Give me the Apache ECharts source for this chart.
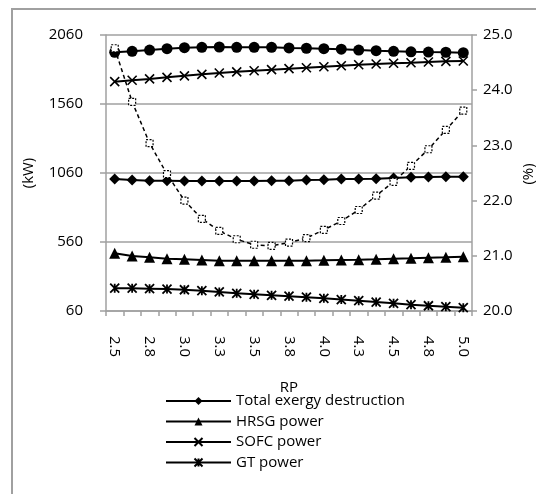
<!DOCTYPE html>
<html>
<head>
<meta charset="utf-8">
<script src="https://cdn.jsdelivr.net/npm/echarts@6/dist/echarts.min.js"></script>
<style>html,body{margin:0;padding:0;background:#fff;}#c{width:536px;height:494px;}</style>
</head>
<body>
<div id="c"></div>
<script>
// Data
const rp = [2.5, 2.625, 2.75, 2.875, 3.0, 3.125, 3.25, 3.375, 3.5, 3.625, 3.75, 3.875, 4.0, 4.125, 4.25, 4.375, 4.5, 4.625, 4.75, 4.875, 5.0];
const totalExergyDestruction = [1016, 1009, 1004, 1004, 1002, 1002, 1002, 1002, 1002, 1004, 1004, 1009, 1011, 1017, 1016, 1019, 1024, 1029, 1031, 1033, 1033];
const hrsgPower = [478, 459, 449, 439, 435, 430, 425, 425, 425, 425, 425, 425, 427, 430, 432, 435, 439, 442, 446, 449, 454];
const sofcPower = [1722, 1732, 1742, 1753, 1764, 1775, 1785, 1793, 1801, 1809, 1816, 1823, 1830, 1837, 1844, 1850, 1855, 1859, 1864, 1869, 1872];
const gtPower = [225, 225, 222, 219, 214, 207, 198, 188, 181, 174, 167, 160, 152, 143, 135, 125, 116, 106, 98, 91, 84];
const netPower = [1935, 1942, 1951, 1961, 1968, 1971, 1973, 1971, 1971, 1971, 1966, 1964, 1961, 1957, 1951, 1946, 1942, 1938, 1936, 1935, 1932];
const efficiency = [24.76, 23.79, 23.04, 22.48, 22.00, 21.67, 21.45, 21.30, 21.20, 21.18, 21.24, 21.32, 21.47, 21.63, 21.83, 22.09, 22.34, 22.63, 22.93, 23.28, 23.63];
const leftTicks = {min: 60, max: 2060, interval: 500};
const rightTicks = {min: 20, max: 25, interval: 1};

const FONT = 'Open Sans';
const GRAY = '#a0a0a0';
const txt = {color: '#000', fontFamily: FONT, fontSize: 15};

const X_SYM = 'path://M0,0L10,10M10,0L0,10';
const STAR_SYM = 'path://M0,0L10,10M10,0L0,10M5,0L5,10';

function lineSeries(name, data, symbol, size, extra) {
  return Object.assign({
    name: name, type: 'line', data: data, yAxisIndex: 0,
    symbol: symbol, symbolSize: size, showAllSymbol: true,
    lineStyle: {color: '#000', width: 2},
    itemStyle: {color: '#000', borderColor: '#000', borderWidth: 0},
    emphasis: {disabled: true}, animation: false
  }, extra || {});
}

const chart = echarts.init(document.getElementById('c'), null, {renderer: 'canvas'});
chart.setOption({
  backgroundColor: '#fff',
  animation: false,
  graphic: [{
    type: 'rect', silent: true, z: -10,
    shape: {x: 12, y: 9, width: 600, height: 600},
    style: {fill: 'none', stroke: GRAY, lineWidth: 2}
  }, {
    type: 'text', silent: true, x: 529, y: 174, rotation: Math.PI / 2,
    style: {text: '(%)', fill: '#000', font: '15px "Open Sans"', align: 'center', verticalAlign: 'middle'}
  }],
  grid: {left: 106, right: 64, top: 35, bottom: 183},
  legend: {
    data: ['Total exergy destruction', 'HRSG power', 'SOFC power', 'GT power'],
    orient: 'vertical', left: 160, top: 388,
    itemWidth: 65, itemHeight: 10, itemGap: 4.5,
    textStyle: Object.assign({}, txt, {lineHeight: 16, padding: [0, 0, 0, 0]}),
    selectedMode: false
  },
  xAxis: {
    type: 'category', data: rp.map(String), boundaryGap: true,
    axisLine: {lineStyle: {color: GRAY, width: 1.5}},
    axisTick: {show: true, interval: 0, length: 5, lineStyle: {color: GRAY, width: 1.5}},
    axisLabel: Object.assign({}, txt, {interval: 1, rotate: -90, margin: 25,
      formatter: v => Number(v).toFixed(1)}),
    splitLine: {show: false},
    name: 'RP', nameLocation: 'middle', nameGap: 69, nameTextStyle: txt
  },
  yAxis: [{
    type: 'value', position: 'left',
    min: leftTicks.min, max: leftTicks.max, interval: leftTicks.interval,
    axisLine: {show: true, lineStyle: {color: GRAY, width: 1.5}},
    axisTick: {show: true, length: 6, lineStyle: {color: GRAY, width: 1.5}},
    axisLabel: Object.assign({}, txt, {margin: 23, formatter: v => String(v)}),
    splitLine: {show: true, lineStyle: {color: GRAY, width: 1.5}},
    name: '(kW)', nameLocation: 'middle', nameGap: 70, nameTextStyle: txt
  }, {
    type: 'value', position: 'right',
    min: rightTicks.min, max: rightTicks.max, interval: rightTicks.interval,
    axisLine: {show: true, lineStyle: {color: GRAY, width: 1.5}},
    axisTick: {show: true, length: 5, lineStyle: {color: GRAY, width: 1.5}},
    axisLabel: Object.assign({}, txt, {margin: 11, formatter: v => v.toFixed(1)}),
    splitLine: {show: false}
  }],
  series: [
    lineSeries('Net power', netPower, 'circle', 11),
    lineSeries('Total exergy destruction', totalExergyDestruction, 'diamond', 11),
    lineSeries('HRSG power', hrsgPower, 'triangle', 11),
    lineSeries('SOFC power', sofcPower, X_SYM, 9, {itemStyle: {color: '#000', borderColor: '#000', borderWidth: 1.6}}),
    lineSeries('GT power', gtPower, STAR_SYM, 9, {itemStyle: {color: '#000', borderColor: '#000', borderWidth: 1.8}}),
    lineSeries('Efficiency', efficiency, 'rect', 7, {
      yAxisIndex: 1,
      lineStyle: {color: '#000', width: 1.5, type: [4, 3]},
      itemStyle: {color: '#fff', borderColor: '#000', borderWidth: 1.2, borderType: [2, 1.5]}
    })
  ]
});
</script>
</body>
</html>
